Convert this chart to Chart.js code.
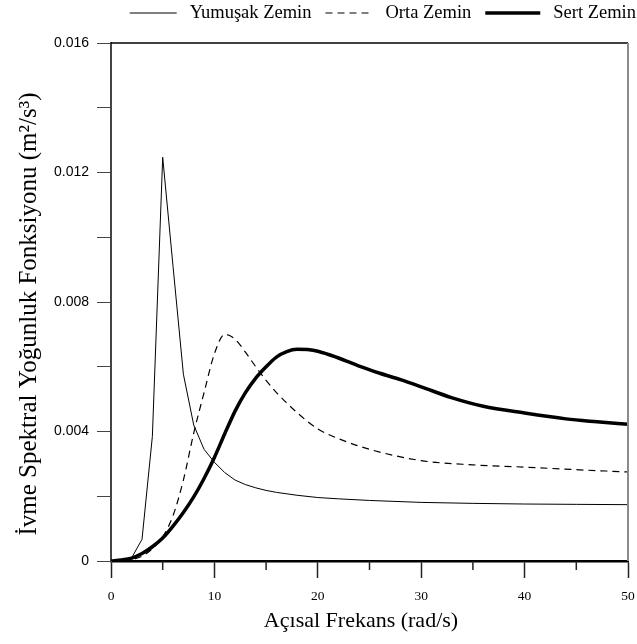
<!DOCTYPE html>
<html>
<head>
<meta charset="utf-8">
<script src="https://cdn.jsdelivr.net/npm/chart.js@4.4.1/dist/chart.umd.min.js"></script>
<style>
  html, body { margin: 0; padding: 0; background: #fff; }
  #wrap { width: 637px; height: 644px; }
</style>
</head>
<body>
<div id="wrap"><canvas id="psd"></canvas></div>
<script>
// frekans (rad/s) ve spektral yoğunluk değerleri (m2/s3)
const softFreq = [0, 1, 2, 3, 4, 5, 6, 7, 8, 9, 10, 11, 12, 13, 14, 15, 16, 18, 20, 22, 25, 30, 35, 40, 45, 50];
const softValues = [0, 0.00001, 0.0001, 0.00067, 0.00385, 0.01247, 0.0091, 0.00577, 0.0042, 0.00345, 0.00305, 0.00273, 0.0025, 0.00236, 0.00226, 0.00218, 0.00212, 0.00203, 0.00196, 0.00192, 0.00187, 0.00181, 0.00178, 0.00176, 0.00175, 0.00174];

const midFreq = [0, 1, 2, 3, 4, 5, 6, 7, 8, 9, 10, 11, 12, 13, 14, 15, 16, 17, 18, 20, 22, 25, 30, 35, 40, 45, 50];
const midValues = [0, 0.000005, 0.00004, 0.00015, 0.00038, 0.00075, 0.0014, 0.0025, 0.00395, 0.0052, 0.0064, 0.007, 0.00685, 0.00645, 0.006, 0.00558, 0.0052, 0.00488, 0.00458, 0.00408, 0.00378, 0.00345, 0.0031, 0.00297, 0.0029, 0.00282, 0.00275];

const hardFreq = [0, 1, 2, 3, 4, 5, 6, 7, 8, 9, 10, 11, 12, 13, 14, 15, 16, 17, 18, 19, 20, 22, 24, 26, 28, 30, 33, 36, 40, 44, 47, 50];
const hardValues = [0, 0.00003, 0.00009, 0.00023, 0.00044, 0.00071, 0.00108, 0.00150, 0.00198, 0.00255, 0.0032, 0.00393, 0.00463, 0.0052, 0.00565, 0.006, 0.0063, 0.00647, 0.00654, 0.00653, 0.00648, 0.00627, 0.00602, 0.0058, 0.0056, 0.00538, 0.00504, 0.00478, 0.00457, 0.00439, 0.0043, 0.00422];

const seriesNames = ['Yumuşak Zemin', 'Orta Zemin', 'Sert Zemin'];
const xTicks = [0, 10, 20, 30, 40, 50];
const yTicks = [0, 0.004, 0.008, 0.012, 0.016];
const xTitle = 'Açısal Frekans (rad/s)';
const yTitle = 'İvme Spektral Yoğunluk Fonksiyonu (m²/s³)';

function toPoints(xs, ys) {
    return xs.map((x, i) => ({ x: x, y: ys[i] }));
}

// üst/sağ çerçeve, ara x çentikleri, eksen başlıkları ve lejant
const framePlugin = {
    id: 'frame',
    afterDraw(chart) {
        const { ctx, chartArea: a, scales } = chart;
        ctx.save();
        ctx.strokeStyle = '#000';
        ctx.lineWidth = 1.5;
        ctx.beginPath();
        ctx.moveTo(a.left, a.top);
        ctx.lineTo(a.right, a.top);
        ctx.stroke();
        ctx.strokeStyle = '#8a8a8a';
        ctx.lineWidth = 2;
        ctx.beginPath();
        ctx.moveTo(a.right, a.top);
        ctx.lineTo(a.right, a.bottom);
        ctx.stroke();
        ctx.strokeStyle = '#222';
        ctx.lineWidth = 1.5;
        for (let v = 5; v < 50; v += 10) {
            const px = scales.x.getPixelForValue(v);
            ctx.beginPath();
            ctx.moveTo(px, a.bottom);
            ctx.lineTo(px, a.bottom + 9);
            ctx.stroke();
        }

        ctx.fillStyle = '#000';
        ctx.textAlign = 'center';
        ctx.textBaseline = 'middle';

        // x ekseni başlığı
        ctx.font = '22px "Liberation Serif"';
        ctx.fillText(xTitle, 361, 621);

        // y ekseni başlığı
        ctx.save();
        ctx.translate(29, 314);
        ctx.rotate(-Math.PI / 2);
        ctx.font = '25px "Liberation Serif"';
        ctx.fillText(yTitle, 0, 0);
        ctx.restore();

        // lejant: sağa yaslı, çizgi + metin
        ctx.font = '18.5px "Liberation Serif"';
        ctx.textAlign = 'left';
        const gap = 13, itemGap = 14, y = 13;
        let x = 636;
        const sets = chart.data.datasets;
        for (let i = sets.length - 1; i >= 0; i--) {
            const ds = sets[i];
            const lineLen = ds.borderWidth > 2 ? 55 : 47;
            const w = ctx.measureText(ds.label).width;
            x -= w;
            ctx.fillText(ds.label, x, y);
            x -= gap;
            ctx.lineWidth = ds.borderWidth;
            ctx.strokeStyle = ds.borderColor;
            ctx.setLineDash(ds.borderDash || []);
            ctx.beginPath();
            ctx.moveTo(x - lineLen, y);
            ctx.lineTo(x, y);
            ctx.stroke();
            ctx.setLineDash([]);
            x -= lineLen + itemGap;
        }
        ctx.restore();
    }
};

const ctx = document.getElementById('psd').getContext('2d');
new Chart(ctx, {
    type: 'line',
    data: {
        datasets: [
            {
                label: seriesNames[0],
                data: toPoints(softFreq, softValues),
                borderColor: '#000',
                borderWidth: 1,
                tension: 0,
                pointRadius: 0
            },
            {
                label: seriesNames[1],
                data: toPoints(midFreq, midValues),
                borderColor: '#000',
                borderWidth: 1.2,
                borderDash: [7, 5],
                cubicInterpolationMode: 'monotone',
                pointRadius: 0
            },
            {
                label: seriesNames[2],
                data: toPoints(hardFreq, hardValues),
                borderColor: '#000',
                borderWidth: 3.5,
                cubicInterpolationMode: 'monotone',
                pointRadius: 0
            }
        ]
    },
    options: {
        responsive: true,
        maintainAspectRatio: false,
        animation: false,
        layout: { padding: { top: 43, right: 9, bottom: 10, left: 15 } },
        plugins: {
            tooltip: { enabled: false },
            legend: { display: false }
        },
        scales: {
            x: {
                type: 'linear',
                min: 0,
                max: 50,
                afterBuildTicks(scale) {
                    scale.ticks = xTicks.map(v => ({ value: v }));
                },
                afterFit(scale) {
                    scale.height = 73;
                    scale.paddingRight = 0;
                    scale.paddingLeft = 0;
                },
                border: { color: '#000', width: 2.5 },
                grid: { drawOnChartArea: false, drawTicks: true, tickLength: 17, tickColor: '#222', tickWidth: 1.5 },
                ticks: {
                    color: '#000',
                    padding: 10,
                    font: { family: 'Liberation Serif', size: 13.5 }
                },
                title: { display: false }
            },
            y: {
                type: 'linear',
                min: 0,
                max: 0.016,
                afterBuildTicks(scale) {
                    const t = [];
                    for (let i = 0; i <= 8; i++) t.push({ value: i * 0.002 });
                    scale.ticks = t;
                },
                afterFit(scale) {
                    scale.width = 96;
                },
                border: { color: '#444', width: 2 },
                grid: { drawOnChartArea: false, drawTicks: true, tickLength: 14, tickColor: '#444', tickWidth: 1 },
                ticks: {
                    color: '#000',
                    padding: 8,
                    font: { family: 'Liberation Sans', size: 14 },
                    callback(value) {
                        const hit = yTicks.find(v => Math.abs(v - value) < 1e-9);
                        if (hit === undefined) return '';
                        return hit === 0 ? '0' : hit.toFixed(3);
                    }
                },
                title: { display: false }
            }
        }
    },
    plugins: [framePlugin]
});
</script>
</body>
</html>
